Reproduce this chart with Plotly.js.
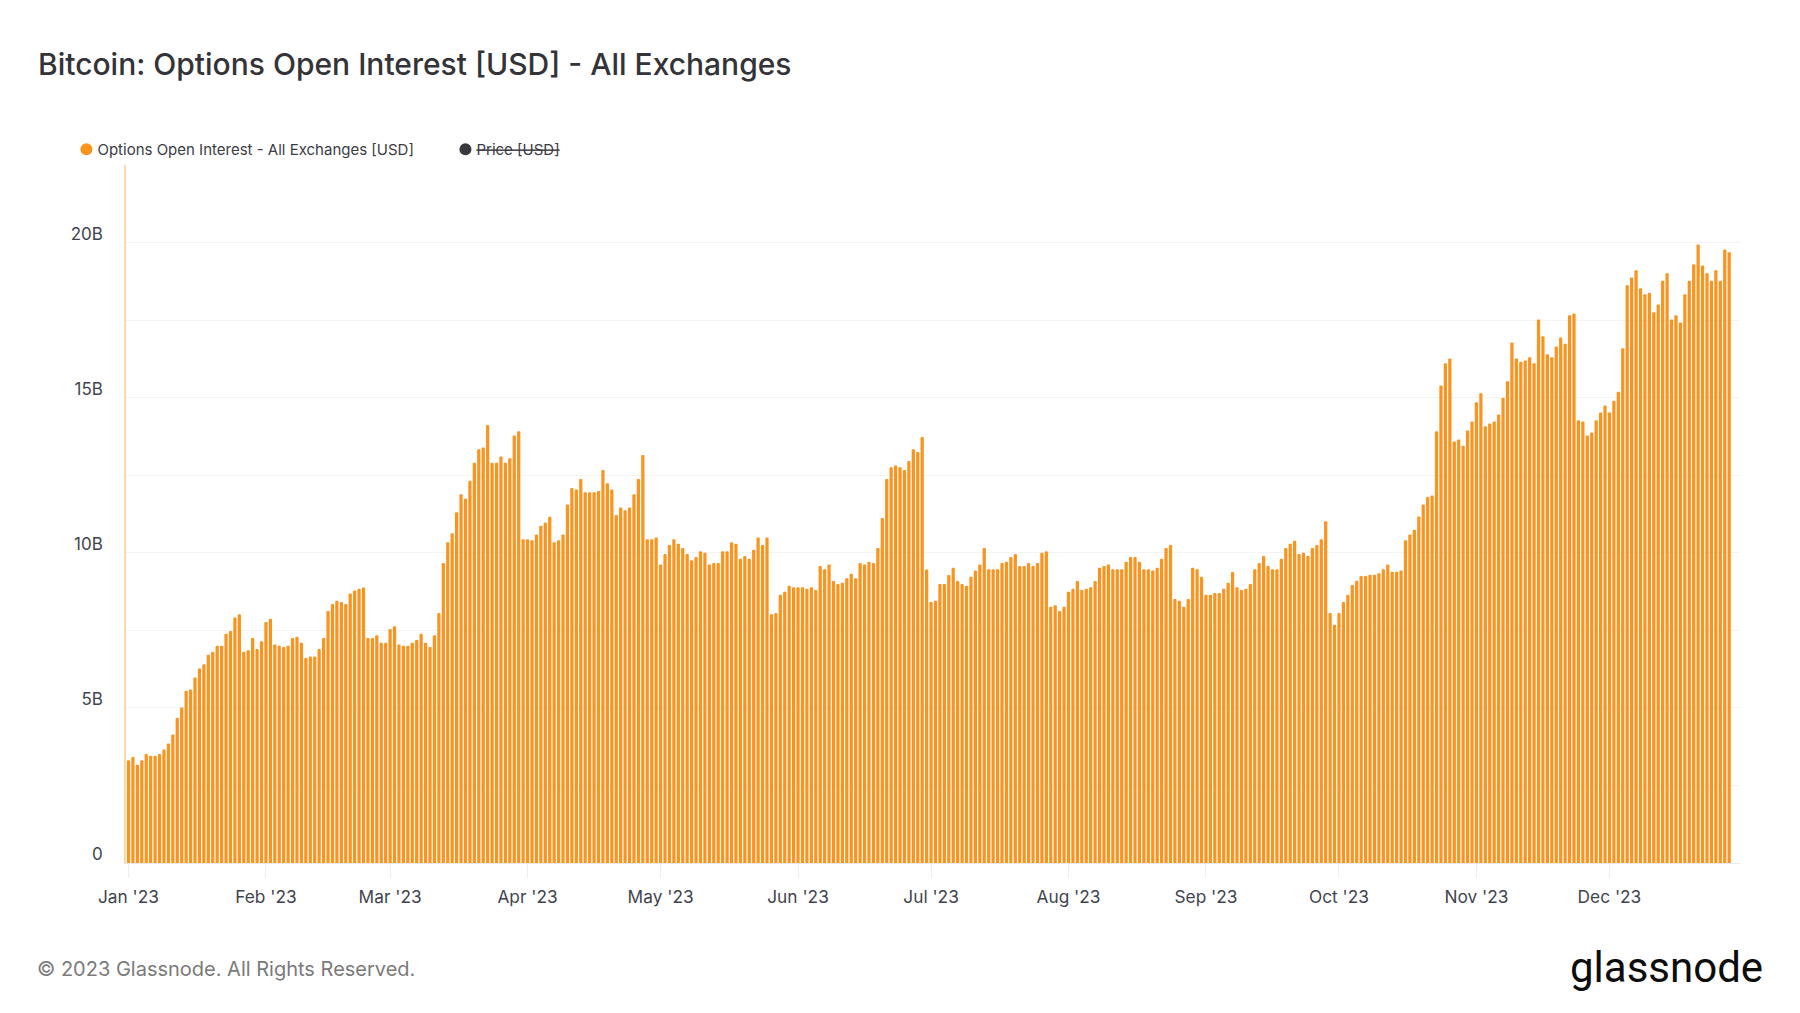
<!DOCTYPE html>
<html><head><meta charset="utf-8">
<script src="https://cdn.plot.ly/plotly-3.0.1.min.js"></script>
<style>html,body{margin:0;padding:0;background:#fff}#c{width:1800px;height:1013px}</style>
</head><body><div id="c"></div>
<script>
// Open interest in billions of USD, one value per day
const jan=[3.31,3.42,3.17,3.31,3.51,3.46,3.46,3.51,3.66,3.85,4.14,4.68,5.01,5.55,5.59,5.98,6.27,6.41,6.71,6.81,7.00,7.00,7.39,7.48,7.91,8.02,6.81,6.86,7.25,6.90,7.15];
const feb=[7.77,7.87,7.04,7.00,6.96,7.00,7.25,7.29,7.10,6.61,6.66,6.66,6.90,7.25,8.12,8.35,8.45,8.41,8.35,8.69,8.78,8.84,8.88,7.25,7.25,7.34,7.10,7.10];
const mar=[7.54,7.63,7.04,7.00,7.00,7.10,7.19,7.39,7.10,6.96,7.34,8.06,9.67,10.34,10.63,11.31,11.89,11.74,12.32,12.90,13.34,13.39,14.12,12.90,12.90,13.10,12.90,13.05,13.78,13.92,10.44];
const apr=[10.44,10.40,10.59,10.87,10.98,11.16,10.34,10.40,10.59,11.56,12.09,12.04,12.38,11.95,11.95,11.95,11.99,12.67,12.24,12.04,11.22,11.46,11.37,11.46,11.89,12.38,13.15,10.44,10.44,10.49];
const may=[9.62,9.96,10.25,10.44,10.29,10.15,9.96,9.76,9.86,10.05,10.00,9.62,9.67,9.67,10.05,10.05,10.34,10.29,9.81,9.90,9.81,10.10,10.49,10.25,10.49,8.02,8.06,8.65,8.74,8.94,8.89];
const jun=[8.89,8.89,8.84,8.89,8.80,9.57,9.47,9.62,9.09,8.99,9.03,9.18,9.32,9.18,9.67,9.62,9.71,9.67,10.15,11.12,12.38,12.76,12.81,12.76,12.67,12.96,13.34,13.25,13.73,9.46];
const jul=[8.41,8.45,8.99,8.99,9.28,9.52,9.09,8.99,8.94,9.23,9.43,9.62,10.15,9.47,9.47,9.47,9.67,9.71,9.86,9.96,9.57,9.57,9.67,9.57,9.67,10.00,10.05,8.26,8.31,8.12,8.26];
const aug=[8.74,8.84,9.09,8.80,8.84,8.89,9.09,9.52,9.57,9.62,9.47,9.47,9.47,9.71,9.86,9.86,9.71,9.47,9.47,9.43,9.52,9.81,10.15,10.25,8.51,8.45,8.26,8.51,9.52,9.47,9.23];
const sep=[8.65,8.65,8.70,8.70,8.84,9.03,9.38,8.89,8.80,8.84,8.99,9.47,9.67,9.90,9.57,9.47,9.47,9.81,10.15,10.29,10.39,9.96,10.00,9.90,10.15,10.25,10.44,11.02,8.06,7.68];
const oct=[8.06,8.41,8.65,8.96,9.10,9.25,9.25,9.29,9.29,9.34,9.47,9.62,9.39,9.39,9.43,10.40,10.59,10.74,11.17,11.56,11.80,11.85,13.92,15.39,16.11,16.26,13.59,13.65,13.45,13.94,14.23];
const nov=[14.85,15.14,14.08,14.17,14.23,14.46,15.00,15.53,16.78,16.26,16.16,16.20,16.30,16.11,17.52,16.98,16.40,16.30,16.65,16.94,16.74,17.66,17.71,14.27,14.23,13.78,13.88,14.27,14.52,14.75];
const dec=[14.52,14.90,15.19,16.59,18.62,18.87,19.11,18.53,18.33,18.38,17.75,18.00,18.77,19.01,17.52,17.66,17.42,18.33,18.77,19.30,19.94,19.26,19.01,18.77,19.11,18.77,19.78,19.69];

const months=[jan,feb,mar,apr,may,jun,jul,aug,sep,oct,nov,dec];
const dates=[],values=[];
months.forEach((arr,m)=>arr.forEach((v,d)=>{
  dates.push('2023-'+String(m+1).padStart(2,'0')+'-'+String(d+1).padStart(2,'0'));
  values.push(v*1e9);
}));
const seriesName='Options Open Interest - All Exchanges [USD]';
const priceName='<s>Price [USD]</s>';
const yTickVals=[0,2.5e9,5e9,7.5e9,10e9,12.5e9,15e9,17.5e9,20e9,22.5e9];
const yTickText=['0','','5B','','10B','','15B','','20B',''];
const FONT='Inter, "Noto Sans", sans-serif';

const traces=[
 {type:'bar',x:dates,y:values,name:seriesName,showlegend:false,marker:{color:'#fb931f',line:{width:0},cornerradius:1},hoverinfo:'x+y'},
 {type:'scatter',mode:'markers',x:[null],y:[null],name:seriesName,marker:{color:'#fb931f',size:12,symbol:'circle'}},
 {type:'scatter',mode:'markers',x:[null],y:[null],name:priceName,marker:{color:'#38383d',size:12,symbol:'circle'}}
];
const layout={
 width:1800,height:1013,paper_bgcolor:'#fff',plot_bgcolor:'#fff',
 margin:{l:126,r:60,t:165,b:150,pad:0},
 font:{family:FONT,color:'#3c3c44',size:17},
 title:{text:'Bitcoin: Options Open Interest [USD] - All Exchanges',x:38/1800,xanchor:'left',xref:'container',y:1-64/1013,yanchor:'middle',yref:'container',
   font:{family:FONT,size:30,color:'#333338',weight:500}},
 bargap:0.27,
 showlegend:true,
 legend:{orientation:'h',x:-0.0369,xanchor:'left',y:0.9985,yanchor:'bottom',bgcolor:'rgba(0,0,0,0)',
   font:{family:FONT,size:15,color:'#3c3c44'},entrywidthmode:'pixels',entrywidth:334,itemclick:false,itemdoubleclick:false,tracegroupgap:0},
 xaxis:{type:'date',range:['2022-12-31 10:28','2023-12-30 10:34'],tick0:'2023-01-01',dtick:'M1',tickformat:"%b '%y",
   ticks:'outside',ticklen:14,tickcolor:'#eeeeee',tickwidth:1,showgrid:false,showline:true,linecolor:'#e8e8e8',linewidth:1,zeroline:false,ticklabelstandoff:4,
   tickfont:{family:FONT,size:17.3,color:'#3f4450'}},
 yaxis:{range:[0,22.5e9],tickmode:'array',tickvals:yTickVals,ticktext:yTickText,ticks:'',ticklabelstandoff:18,ticklabelshift:-9,
   showgrid:true,gridcolor:'#f3f3f3',gridwidth:1,zeroline:false,showline:true,linecolor:'#fcd9a8',linewidth:1.5,
   tickfont:{family:FONT,size:17,color:'#3f4450'}},
 annotations:[
  {xref:'paper',yref:'paper',x:-91.5/1614,y:-105.5/698,xanchor:'left',yanchor:'middle',showarrow:false,align:'left',
   text:'© 2023 Glassnode. All Rights Reserved.',font:{family:FONT,size:20,color:'#7a7a7a'}},
  {xref:'paper',yref:'paper',x:1765/1614-126/1614,y:-104/698,xanchor:'right',yanchor:'middle',showarrow:false,align:'right',
   text:'glassnode',font:{family:'Roboto, Inter, sans-serif',size:42,color:'#0c0c0c',weight:400}}
 ]
};
Plotly.newPlot('c',traces,layout,{displayModeBar:false}).then(()=>{
  // tighten the gap between each legend dot and its label, as in the reference
  document.querySelectorAll('.legend .legendtext').forEach(t=>{
    t.setAttribute('x',String(parseFloat(t.getAttribute('x'))-9));
  });
});
</script></body></html>
